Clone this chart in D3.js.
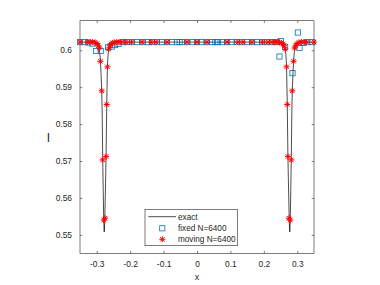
<!DOCTYPE html>
<html>
<head>
<meta charset="utf-8">
<script src="https://cdn.jsdelivr.net/npm/d3@7"></script>
<style>
  body { margin: 0; background: #fff; }
  text { font-family: "Liberation Sans", Arial, sans-serif; fill: #262626; }
</style>
</head>
<body>
<div id="chart"></div>
<script>
// exact solution (left dip, plateau, right dip)
const exactX = [-0.35, -0.32, -0.305, -0.298, -0.294, -0.291, -0.289, -0.287, -0.285, -0.2835, -0.282, -0.2805, -0.279, -0.2775, -0.276, -0.2745, -0.273, -0.272, -0.270, -0.268, -0.266, -0.264, -0.261, -0.257, -0.25, -0.24,
                0.24, 0.25, 0.257, 0.261, 0.264, 0.266, 0.268, 0.270, 0.272, 0.273, 0.2745, 0.276, 0.2775, 0.279, 0.2805, 0.282, 0.2835, 0.285, 0.287, 0.289, 0.291, 0.294, 0.298, 0.305, 0.32, 0.35];
const exactY = [0.6022, 0.6022, 0.6020, 0.6016, 0.6008, 0.5993, 0.5972, 0.5935, 0.5890, 0.5820, 0.5703, 0.5620, 0.5540, 0.5508, 0.5535, 0.5600, 0.5665, 0.5712, 0.5853, 0.5955, 0.5988, 0.6003, 0.6012, 0.6017, 0.6020, 0.6022,
                0.6022, 0.6020, 0.6017, 0.6012, 0.6003, 0.5988, 0.5955, 0.5853, 0.5712, 0.5665, 0.5600, 0.5535, 0.5508, 0.5540, 0.5620, 0.5703, 0.5820, 0.5890, 0.5935, 0.5972, 0.5993, 0.6008, 0.6016, 0.6020, 0.6022, 0.6022];

// fixed mesh
const fixedX = [-0.35, -0.337, -0.325, -0.313, -0.302, -0.288, -0.266, -0.255, -0.245, -0.235, -0.222, -0.21, -0.195, -0.18, -0.163, -0.147, -0.135, -0.12, -0.105, -0.09, -0.075, -0.06, -0.052, -0.045, -0.03, -0.013,
                0, 0.013, 0.03, 0.045, 0.055, 0.063, 0.075, 0.09, 0.103, 0.12, 0.135, 0.15, 0.165, 0.18, 0.195, 0.21, 0.225, 0.237, 0.2467, 0.251, 0.2637, 0.2857, 0.3017, 0.3067, 0.318, 0.33, 0.345];
const fixedY = [0.6022, 0.6022, 0.6021, 0.6018, 0.5998, 0.5998, 0.6008, 0.6010, 0.6014, 0.6017, 0.6022, 0.6022, 0.6022, 0.6022, 0.6022, 0.6022, 0.6022, 0.6022, 0.6022, 0.6022, 0.6022, 0.6022, 0.6022, 0.6022, 0.6022, 0.6022,
                0.6022, 0.6022, 0.6022, 0.6022, 0.6022, 0.6022, 0.6022, 0.6022, 0.6022, 0.6022, 0.6022, 0.6022, 0.6022, 0.6022, 0.6022, 0.6022, 0.6022, 0.6022, 0.5983, 0.6025, 0.6009, 0.5938, 0.6048, 0.6006, 0.6020, 0.6022, 0.6022];

// moving mesh
const movingX = [-0.35, -0.328, -0.32, -0.312, -0.305, -0.299, -0.295, -0.292, -0.289, -0.285, -0.282, -0.279, -0.275, -0.272, -0.270, -0.268, -0.264, -0.261, -0.257, -0.252, -0.247, -0.24, -0.233, -0.225, -0.212, -0.196, -0.164, -0.137, -0.122, -0.09, -0.03,
                 0, 0.03, 0.09, 0.122, 0.137, 0.164, 0.196, 0.212, 0.225, 0.233, 0.24, 0.247, 0.252, 0.257, 0.261, 0.264, 0.268, 0.270, 0.272, 0.275, 0.279, 0.282, 0.285, 0.289, 0.292, 0.295, 0.299, 0.305, 0.312, 0.32, 0.328, 0.35];
const movingY = [0.6022, 0.6022, 0.6022, 0.6022, 0.6021, 0.6018, 0.6012, 0.6006, 0.5970, 0.5890, 0.5703, 0.5540, 0.5545, 0.5712, 0.5853, 0.5955, 0.6003, 0.6012, 0.6017, 0.6020, 0.6021, 0.6022, 0.6022, 0.6022, 0.6022, 0.6022, 0.6022, 0.6022, 0.6022, 0.6022, 0.6022,
                 0.6022, 0.6022, 0.6022, 0.6022, 0.6022, 0.6022, 0.6022, 0.6022, 0.6022, 0.6022, 0.6022, 0.6021, 0.6020, 0.6017, 0.6012, 0.6003, 0.5955, 0.5853, 0.5712, 0.5545, 0.5540, 0.5703, 0.5890, 0.5970, 0.6006, 0.6012, 0.6018, 0.6021, 0.6022, 0.6022, 0.6022, 0.6022];

const xTicks = [-0.3, -0.2, -0.1, 0, 0.1, 0.2, 0.3];
const xTickLabels = ["-0.3", "-0.2", "-0.1", "0", "0.1", "0.2", "0.3"];
const yTicks = [0.55, 0.56, 0.57, 0.58, 0.59, 0.6];
const yTickLabels = ["0.55", "0.56", "0.57", "0.58", "0.59", "0.6"];
const legendLabels = ["exact", "fixed N=6400", "moving N=6400"];

const W = 380, H = 285;
const axLeft = 80, axRight = 314, axTop = 20.7, axBottom = 253.3;
const axisColor = "#262626";
const blue = "#0072BD", red = "#ff0000";

const svg = d3.select("#chart").append("svg")
  .attr("width", W)
  .attr("height", H);

const x = d3.scaleLinear().domain([-0.35, 0.35]).range([axLeft, axRight]);
const y = d3.scaleLinear().domain([0.545, 0.608]).range([axBottom, axTop]);

// marker helpers
function star(g, cx, cy) {
  const r = 3.0, d = 2.2;
  const p = `M${cx - r},${cy}L${cx + r},${cy}M${cx},${cy - r}L${cx},${cy + r}` +
            `M${cx - d},${cy - d}L${cx + d},${cy + d}M${cx - d},${cy + d}L${cx + d},${cy - d}`;
  g.append("path").attr("d", p).attr("stroke", red).attr("stroke-width", 1).attr("fill", "none");
}
function square(g, cx, cy) {
  g.append("rect").attr("x", cx - 2.6).attr("y", cy - 2.6).attr("width", 5.2).attr("height", 5.2)
    .attr("fill", "none").attr("stroke", blue).attr("stroke-width", 0.8);
}

// axes box, ticks
const tl = 2.3;
svg.append("rect").attr("x", axLeft).attr("y", axTop).attr("width", axRight - axLeft).attr("height", axBottom - axTop)
  .attr("fill", "white").attr("stroke", axisColor).attr("stroke-width", 0.6);

const xAxis = d3.axisBottom(x).tickValues(xTicks).tickFormat((d, i) => xTickLabels[i]).tickSizeInner(-tl).tickSizeOuter(0).tickPadding(8);
const gx = svg.append("g").attr("transform", `translate(0,${axBottom})`).call(xAxis);
const xAxisTop = d3.axisTop(x).tickValues(xTicks).tickFormat("").tickSizeInner(-tl).tickSizeOuter(0);
const gxt = svg.append("g").attr("transform", `translate(0,${axTop})`).call(xAxisTop);
const yAxis = d3.axisLeft(y).tickValues(yTicks).tickFormat((d, i) => yTickLabels[i]).tickSizeInner(-tl).tickSizeOuter(0).tickPadding(8);
const gy = svg.append("g").attr("transform", `translate(${axLeft},0)`).call(yAxis);
const yAxisRight = d3.axisRight(y).tickValues(yTicks).tickFormat("").tickSizeInner(-tl).tickSizeOuter(0);
const gyr = svg.append("g").attr("transform", `translate(${axRight},0)`).call(yAxisRight);

[gx, gxt, gy, gyr].forEach(g => {
  g.select(".domain").remove();
  g.selectAll(".tick line").attr("stroke", axisColor).attr("stroke-width", 0.6);
  g.selectAll("text").attr("font-size", "8.4px").attr("font-family", "Liberation Sans, Arial, sans-serif").attr("fill", axisColor);
});

// plot area
const plot = svg.append("g");
const exactData = exactX.map((d, i) => [d, exactY[i]]);
const line = d3.line().x(d => x(d[0])).y(d => y(d[1]));
plot.append("path").datum(exactData).attr("d", line)
  .attr("fill", "none").attr("stroke", "#000").attr("stroke-width", 0.7);

fixedX.forEach((d, i) => square(plot, x(d), y(fixedY[i])));
movingX.forEach((d, i) => star(plot, x(d), y(movingY[i])));

// axis labels
svg.append("text").attr("x", (axLeft + axRight) / 2).attr("y", 280).attr("text-anchor", "middle")
  .attr("font-size", "9px").text("x");
svg.append("text").attr("x", 48.5).attr("y", 142).attr("text-anchor", "middle")
  .attr("font-size", "12px").text("I");

// legend
const lg = svg.append("g");
lg.append("rect").attr("x", 145).attr("y", 209.3).attr("width", 92.3).attr("height", 36.4)
  .attr("fill", "white").attr("stroke", axisColor).attr("stroke-width", 0.6);
const rows = [216.7, 228.3, 239.3];
lg.append("line").attr("x1", 148.3).attr("x2", 176).attr("y1", rows[0]).attr("y2", rows[0])
  .attr("stroke", "#000").attr("stroke-width", 0.7);
square(lg, 162.3, rows[1]);
star(lg, 162.3, rows[2]);
legendLabels.forEach((t, i) => {
  lg.append("text").attr("x", 178).attr("y", rows[i] + 3).attr("font-size", "8.2px").text(t);
});
</script>
</body>
</html>
